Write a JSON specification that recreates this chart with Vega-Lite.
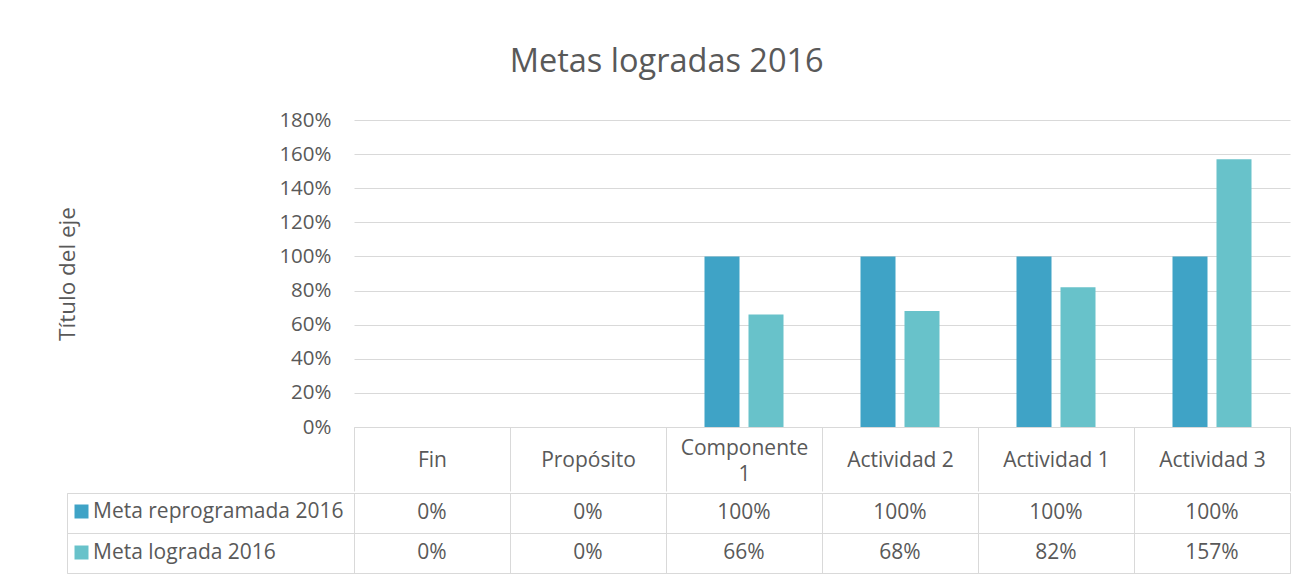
{
  "$schema": "https://vega.github.io/schema/vega-lite/v6.json",
  "autosize": {"type": "pad"},
  "padding": {"left": 56, "top": 45, "right": 22, "bottom": 5},
  "background": "white",
  "title": {
    "text": "Metas logradas 2016",
    "font": "Open Sans",
    "fontSize": 32.5,
    "fontWeight": "normal",
    "color": "#595959",
    "anchor": "middle",
    "baseline": "alphabetic",
    "offset": 6,
    "dx": -7
  },
  "datasets": {
    "metas": [
      {"categoria": "Fin", "serie": "Meta reprogramada 2016", "valor": 0},
      {"categoria": "Propósito", "serie": "Meta reprogramada 2016", "valor": 0},
      {"categoria": "Componente 1", "serie": "Meta reprogramada 2016", "valor": 1.0},
      {"categoria": "Actividad 2", "serie": "Meta reprogramada 2016", "valor": 1.0},
      {"categoria": "Actividad 1", "serie": "Meta reprogramada 2016", "valor": 1.0},
      {"categoria": "Actividad 3", "serie": "Meta reprogramada 2016", "valor": 1.0},
      {"categoria": "Fin", "serie": "Meta lograda 2016", "valor": 0},
      {"categoria": "Propósito", "serie": "Meta lograda 2016", "valor": 0},
      {"categoria": "Componente 1", "serie": "Meta lograda 2016", "valor": 0.66},
      {"categoria": "Actividad 2", "serie": "Meta lograda 2016", "valor": 0.68},
      {"categoria": "Actividad 1", "serie": "Meta lograda 2016", "valor": 0.82},
      {"categoria": "Actividad 3", "serie": "Meta lograda 2016", "valor": 1.57}
    ]
  },
  "config": {
    "font": "Open Sans",
    "view": {"stroke": null},
    "concat": {"spacing": 0}
  },
  "vconcat": [
    {
      "bounds": "flush",
      "spacing": 0,
      "hconcat": [
        {
          "width": 287,
          "height": 307,
          "data": {"name": "metas"},
          "mark": {"type": "text"},
          "encoding": {}
        },
        {
          "width": 936,
          "height": 307,
          "data": {"name": "metas"},
          "mark": {"type": "bar"},
          "encoding": {
            "x": {
              "field": "categoria",
              "type": "nominal",
              "sort": ["Fin", "Propósito", "Componente 1", "Actividad 2", "Actividad 1", "Actividad 3"],
              "scale": {"paddingInner": 0, "paddingOuter": 0},
              "axis": {
                "title": null,
                "labelAngle": 0,
                "labelFont": "Open Sans",
                "labelFontSize": 21,
                "labelColor": "#595959",
                "labelBaseline": "middle",
                "labelLineHeight": 26,
                "labelPadding": {"condition": {"test": "datum.label == 'Componente 1'", "value": -43}, "value": -31},
                "labelExpr": "datum.label == 'Componente 1' ? ['Componente', '1'] : datum.label",
                "tickBand": "extent",
                "tickSize": 64,
                "tickColor": "#d9d9d9",
                "tickWidth": 1,
                "domainColor": "#d9d9d9",
                "domainWidth": 1,
                "grid": false
              }
            },
            "xOffset": {
              "field": "serie",
              "type": "nominal",
              "sort": ["Meta reprogramada 2016", "Meta lograda 2016"],
              "scale": {"paddingInner": 0.2045, "paddingOuter": 0.875}
            },
            "y": {
              "field": "valor",
              "type": "quantitative",
              "scale": {"domain": [0, 1.8], "nice": false},
              "axis": {
                "title": "Título del eje",
                "titleFont": "Open Sans",
                "titleFontSize": 22.5,
                "titleFontWeight": "normal",
                "titleColor": "#595959",
                "titlePadding": 199,
                "values": [0, 0.2, 0.4, 0.6, 0.8, 1.0, 1.2, 1.4, 1.6, 1.8],
                "format": ".0%",
                "labelFont": "Open Sans",
                "labelFontSize": 20.5,
                "labelColor": "#595959",
                "labelPadding": 23,
                "ticks": false,
                "domain": false,
                "grid": true,
                "gridColor": "#d9d9d9",
                "gridWidth": 1
              }
            },
            "color": {
              "field": "serie",
              "type": "nominal",
              "sort": ["Meta reprogramada 2016", "Meta lograda 2016"],
              "scale": {"range": ["#3fa3c6", "#68c2ca"]},
              "legend": {
                "title": null,
                "orient": "none",
                "legendX": 4,
                "legendY": 381,
                "padding": 0,
                "symbolType": "square",
                "symbolSize": 196,
                "symbolStrokeWidth": 0,
                "labelFont": "Open Sans",
                "labelFontSize": 21,
                "labelColor": "#595959",
                "labelOffset": 1,
                "labelLimit": 400,
                "rowPadding": 19
              }
            }
          }
        }
      ]
    },
    {
      "bounds": "flush",
      "spacing": 0,
      "hconcat": [
        {
          "width": 287,
          "height": 80,
          "view": {"stroke": "#d9d9d9", "strokeWidth": 1},
          "data": {"name": "metas"},
          "mark": {"type": "text"},
          "encoding": {
            "y": {
              "field": "serie",
              "type": "nominal",
              "sort": ["Meta reprogramada 2016", "Meta lograda 2016"],
              "scale": {"paddingInner": 0, "paddingOuter": 0},
              "axis": {
                "title": null,
                "labels": false,
                "ticks": false,
                "domain": false,
                "grid": true,
                "tickBand": "extent",
                "gridColor": "#d9d9d9",
                "gridWidth": 1
              }
            }
          }
        },
        {
          "width": 936,
          "height": 80,
          "view": {"stroke": "#d9d9d9", "strokeWidth": 1},
          "data": {"name": "metas"},
          "mark": {"type": "text", "font": "Open Sans", "fontSize": 21, "color": "#595959"},
          "encoding": {
            "x": {
              "field": "categoria",
              "type": "nominal",
              "sort": ["Fin", "Propósito", "Componente 1", "Actividad 2", "Actividad 1", "Actividad 3"],
              "scale": {"paddingInner": 0, "paddingOuter": 0},
              "axis": {
                "title": null,
                "labels": false,
                "ticks": false,
                "domain": false,
                "grid": true,
                "tickBand": "extent",
                "gridColor": "#d9d9d9",
                "gridWidth": 1
              }
            },
            "y": {
              "field": "serie",
              "type": "nominal",
              "sort": ["Meta reprogramada 2016", "Meta lograda 2016"],
              "scale": {"paddingInner": 0, "paddingOuter": 0},
              "axis": {
                "title": null,
                "labels": false,
                "ticks": false,
                "domain": false,
                "grid": true,
                "tickBand": "extent",
                "gridColor": "#d9d9d9",
                "gridWidth": 1
              }
            },
            "text": {"field": "valor", "type": "quantitative", "format": ".0%"}
          }
        }
      ]
    }
  ]
}
